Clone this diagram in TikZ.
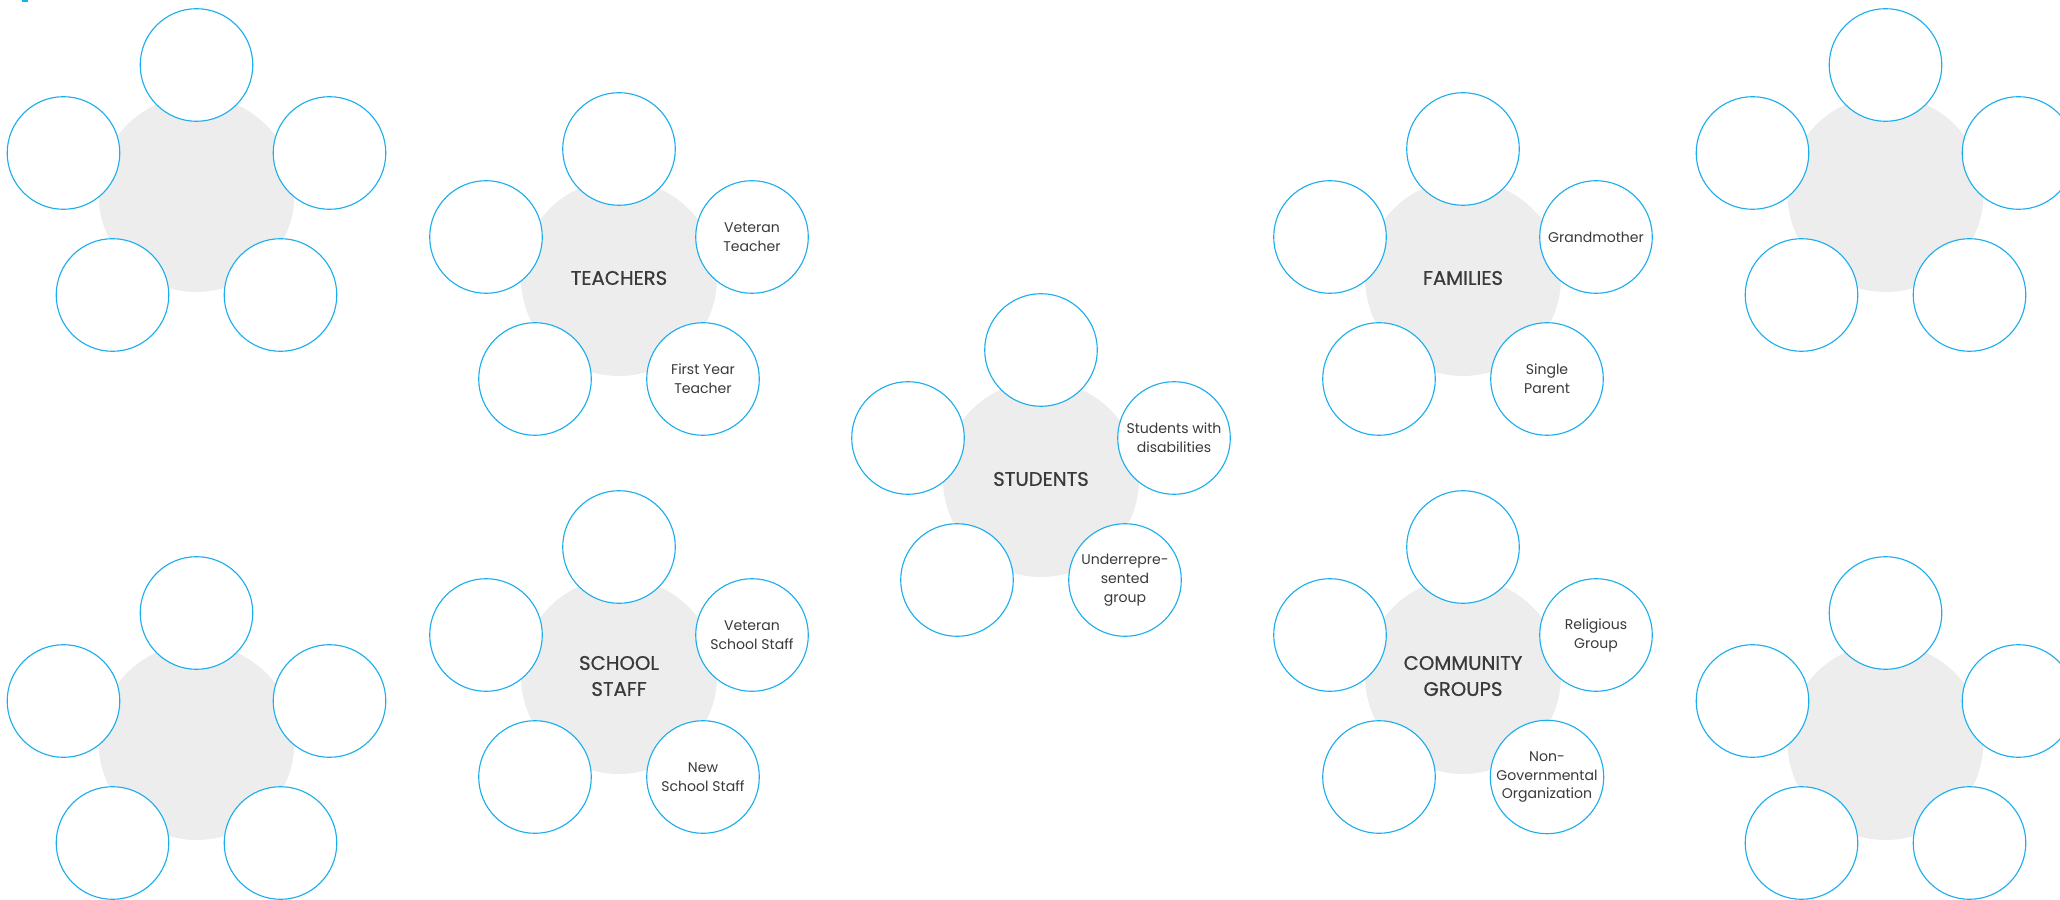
\documentclass[tikz,border=0pt]{standalone}
\usepackage{fontspec}
\setmainfont{Poppins}
\newfontfamily\hubfont[FakeBold=0.7]{Poppins}
\usetikzlibrary{positioning}

\definecolor{ringblue}{RGB}{27,174,236}
\definecolor{hubgrey}{RGB}{237,237,237}
\definecolor{inkgrey}{RGB}{58,58,58}

\tikzset{
  hub/.style={circle,fill=hubgrey,minimum size=4.9cm,inner sep=0pt,align=center,
    text=inkgrey,font=\hubfont\fontsize{14}{18.5}\selectfont},
  leaf/.style={circle,draw=ringblue,fill=white,line width=0.8pt,minimum size=2.815cm,
    inner sep=0pt,align=center,text=inkgrey,font=\fontsize{10}{13.5}\selectfont}
}

\begin{document}
\begin{tikzpicture}[scale=2.5]
\useasboundingbox (0,0) rectangle (20.6,8.99);
\clip (0,0) rectangle (20.6,8.99);
\fill[ringblue] (0.217,8.99) rectangle (0.283,8.967);

% top left
\begin{scope}[shift={(1.965,7.05)}]
  \node[hub] (tl0) at (0,0) {};
  \node[leaf] (tl1) at (0,1.29) {};
  \node[leaf] (tl2) at (1.33,0.41) {};
  \node[leaf] (tl3) at (0.84,-1.01) {};
  \node[leaf] (tl4) at (-0.84,-1.01) {};
  \node[leaf] (tl5) at (-1.33,0.41) {};
\end{scope}

% teachers
\begin{scope}[shift={(6.19,6.21)}]
  \node[hub] (tea0) at (0,0) {TEACHERS};
  \node[leaf] (tea1) at (0,1.29) {};
  \node[leaf] (tea2) at (1.33,0.41) {Veteran\\Teacher};
  \node[leaf] (tea3) at (0.84,-1.01) {First Year\\Teacher};
  \node[leaf] (tea4) at (-0.84,-1.01) {};
  \node[leaf] (tea5) at (-1.33,0.41) {};
\end{scope}

% students
\begin{scope}[shift={(10.41,4.20)}]
  \node[hub] (stu0) at (0,0) {STUDENTS};
  \node[leaf] (stu1) at (0,1.29) {};
  \node[leaf] (stu2) at (1.33,0.41) {Students with\\disabilities};
  \node[leaf] (stu3) at (0.84,-1.01) {Underrepre-\\sented\\group};
  \node[leaf] (stu4) at (-0.84,-1.01) {};
  \node[leaf] (stu5) at (-1.33,0.41) {};
\end{scope}

% families
\begin{scope}[shift={(14.63,6.21)}]
  \node[hub] (fam0) at (0,0) {FAMILIES};
  \node[leaf] (fam1) at (0,1.29) {};
  \node[leaf] (fam2) at (1.33,0.41) {Grandmother};
  \node[leaf] (fam3) at (0.84,-1.01) {Single\\Parent};
  \node[leaf] (fam4) at (-0.84,-1.01) {};
  \node[leaf] (fam5) at (-1.33,0.41) {};
\end{scope}

% top right
\begin{scope}[shift={(18.855,7.05)}]
  \node[hub] (tr0) at (0,0) {};
  \node[leaf] (tr1) at (0,1.29) {};
  \node[leaf] (tr2) at (1.33,0.41) {};
  \node[leaf] (tr3) at (0.84,-1.01) {};
  \node[leaf] (tr4) at (-0.84,-1.01) {};
  \node[leaf] (tr5) at (-1.33,0.41) {};
\end{scope}

% bottom left
\begin{scope}[shift={(1.965,1.57)}]
  \node[hub] (bl0) at (0,0) {};
  \node[leaf] (bl1) at (0,1.29) {};
  \node[leaf] (bl2) at (1.33,0.41) {};
  \node[leaf] (bl3) at (0.84,-1.01) {};
  \node[leaf] (bl4) at (-0.84,-1.01) {};
  \node[leaf] (bl5) at (-1.33,0.41) {};
\end{scope}

% school staff
\begin{scope}[shift={(6.19,2.23)}]
  \node[hub] (sst0) at (0,0) {SCHOOL\\STAFF};
  \node[leaf] (sst1) at (0,1.29) {};
  \node[leaf] (sst2) at (1.33,0.41) {Veteran\\School Staff};
  \node[leaf] (sst3) at (0.84,-1.01) {New\\School Staff};
  \node[leaf] (sst4) at (-0.84,-1.01) {};
  \node[leaf] (sst5) at (-1.33,0.41) {};
\end{scope}

% community groups
\begin{scope}[shift={(14.63,2.23)}]
  \node[hub] (com0) at (0,0) {COMMUNITY\\GROUPS};
  \node[leaf] (com1) at (0,1.29) {};
  \node[leaf] (com2) at (1.33,0.41) {Religious\\Group};
  \node[leaf] (com3) at (0.84,-1.01) {Non-\\Governmental\\Organization};
  \node[leaf] (com4) at (-0.84,-1.01) {};
  \node[leaf] (com5) at (-1.33,0.41) {};
\end{scope}

% bottom right
\begin{scope}[shift={(18.855,1.57)}]
  \node[hub] (br0) at (0,0) {};
  \node[leaf] (br1) at (0,1.29) {};
  \node[leaf] (br2) at (1.33,0.41) {};
  \node[leaf] (br3) at (0.84,-1.01) {};
  \node[leaf] (br4) at (-0.84,-1.01) {};
  \node[leaf] (br5) at (-1.33,0.41) {};
\end{scope}
\end{tikzpicture}
\end{document}
